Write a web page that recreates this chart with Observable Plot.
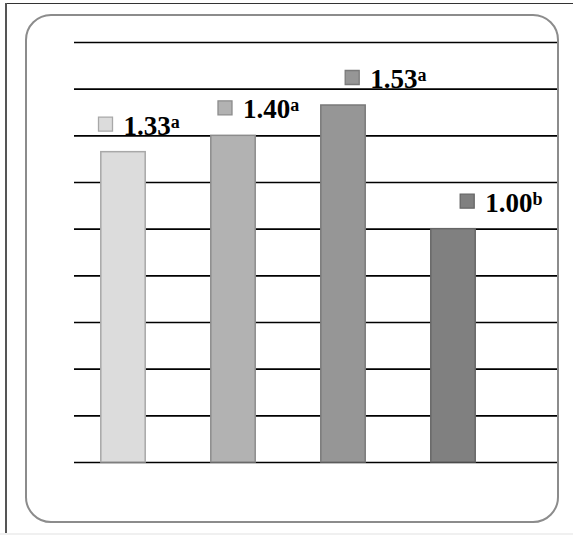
<!DOCTYPE html>
<html>
<head>
<meta charset="utf-8">
<script src="https://cdn.jsdelivr.net/npm/d3@7"></script>
<script src="https://cdn.jsdelivr.net/npm/@observablehq/plot@0.6"></script>
<style>
  html, body { margin: 0; padding: 0; background: #fff; }
  #wrap { position: relative; width: 573px; height: 535px; overflow: hidden; background: #fff; }
  #wrap svg { position: absolute; left: 0; top: 0; }
  .frame-top { position: absolute; left: 6px; top: 3px; width: 567px; height: 0; border-top: 1.5px solid #333; }
  .frame-left { position: absolute; left: 5px; top: 3px; width: 0; height: 530px; border-left: 2px solid #555; }
  .frame-bottom { position: absolute; left: 0; top: 533px; width: 573px; height: 2px; background: #f0f0f0; }
  .panel { position: absolute; left: 25px; top: 14px; width: 530px; height: 505px; border: 2px solid #8c8c8c; border-radius: 26px; box-sizing: content-box; }
</style>
</head>
<body>
<div id="wrap">
  <div class="frame-top"></div>
  <div class="frame-left"></div>
  <div class="frame-bottom"></div>
  <div class="panel"></div>
</div>
<script>
// ---- data ----
const categories = ["G1", "G2", "G3", "G4"];
const values = [1.33, 1.40, 1.53, 1.00];
const letters = ["a", "a", "a", "b"];
const yTicks = [0, 0.2, 0.4, 0.6, 0.8, 1.0, 1.2, 1.4, 1.6, 1.8];

// ---- styles ----
const fills = ["#dcdcdc", "#b2b2b2", "#969696", "#808080"];
const strokes = ["#a8a8a8", "#8c8c8c", "#7a7a7a", "#666666"];
const labelShift = [-18, -8.5, 8.7, 13.7];

const rows = categories.map((c, i) => ({
  cat: c, value: values[i], letter: letters[i], fill: fills[i], stroke: strokes[i],
  label: values[i].toFixed(2)
}));

const labelMarks = rows.flatMap((r, i) => [
  Plot.dot([r], {
    x: "cat", y: "value", symbol: "square", r: 7.9,
    fill: fills[i], stroke: strokes[i], strokeWidth: 1.3,
    dx: labelShift[i], dy: -28
  }),
  Plot.text([r], {
    x: "cat", y: "value", text: "label",
    dx: labelShift[i] + 18, dy: -17.5,
    textAnchor: "start", lineAnchor: "bottom",
    fontSize: 27, fontWeight: "bold", fontFamily: "Liberation Serif, Times New Roman, serif",
    fill: "#000"
  })
]);

const chart = Plot.plot({
  width: 573,
  height: 535,
  marginLeft: 74,
  marginRight: 16,
  marginTop: 42,
  marginBottom: 73,
  style: { background: "transparent", overflow: "visible" },
  x: { type: "band", domain: categories, range: [67.7, 509], padding: 0, axis: null },
  y: { domain: [0, 1.8], axis: null },
  marks: [
    Plot.ruleY(yTicks, { stroke: "#000", strokeWidth: 1.6 }),
    Plot.barY(rows, {
      x: "cat", y: "value",
      fill: (d) => d.fill, stroke: (d) => d.stroke, strokeWidth: 1.5,
      insetLeft: 32.8, insetRight: 32.8
    }),
    ...labelMarks
  ]
});
document.getElementById("wrap").appendChild(chart);

// add superscript letters as tspans after the numbers
const labelTexts = d3.select(chart).selectAll('g[aria-label="text"] text').nodes();
labelTexts.forEach((node, i) => {
  d3.select(node).append("tspan")
    .attr("dy", "-7")
    .attr("font-size", 18)
    .text(letters[i]);
});
</script>
</body>
</html>
